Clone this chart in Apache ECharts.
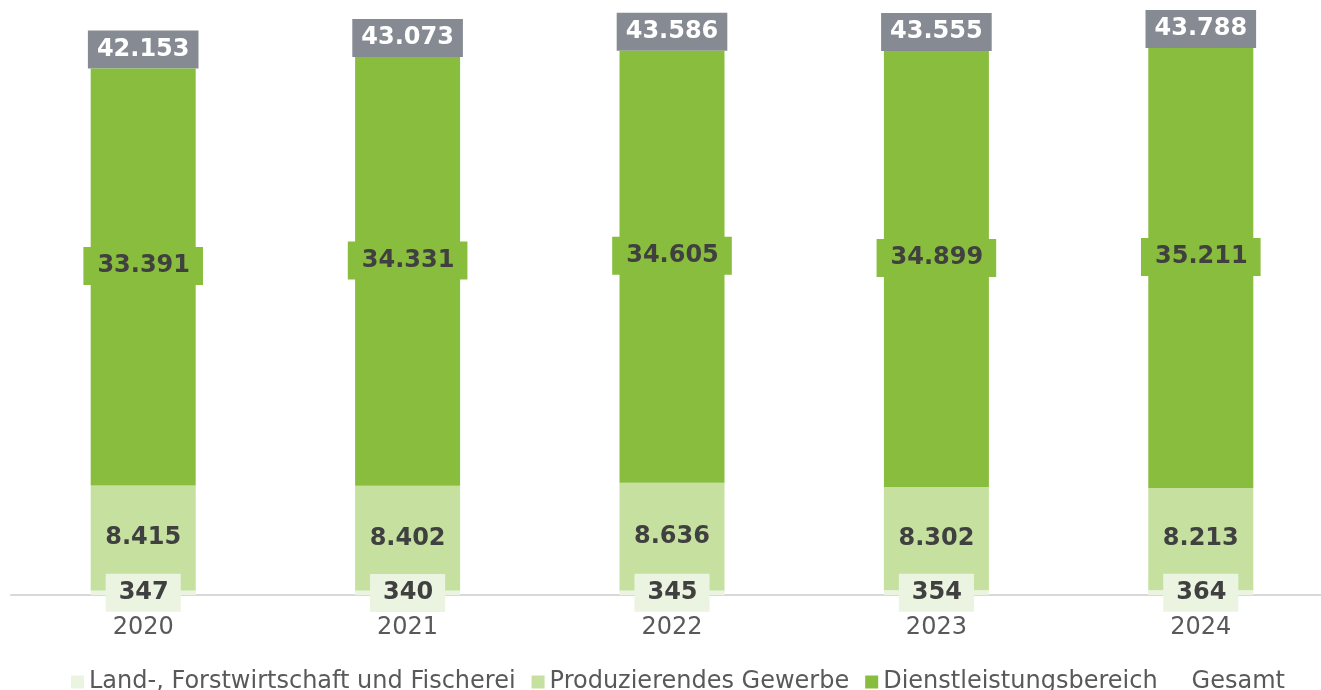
<!DOCTYPE html>
<html>
<head>
<meta charset="utf-8">
<script src="https://cdn.jsdelivr.net/npm/echarts@6/dist/echarts.min.js"></script>
<style>
  html, body { margin: 0; padding: 0; background: #fff; }
  #chart { width: 1321px; height: 690px; }
</style>
</head>
<body>
<div id="chart"></div>
<script>
var years = ['2020', '2021', '2022', '2023', '2024'];
var land = [347, 340, 345, 354, 364];
var produzierend = [8415, 8402, 8636, 8302, 8213];
var dienst = [33391, 34331, 34605, 34899, 35211];
var gesamt = [42153, 43073, 43586, 43555, 43788];

function fmt(v) {
    return String(v).replace(/\B(?=(\d{3})+(?!\d))/g, '.');
}

var chart = echarts.init(document.getElementById('chart'));

var baseLabel = {
    show: true,
    fontFamily: 'DejaVu Sans',
    fontSize: 24,
    fontWeight: 'bold',
    color: '#404040',
    lineHeight: 24,
    formatter: function (p) { return fmt(p.value); }
};

var option = {
    animation: false,
    textStyle: { fontFamily: 'DejaVu Sans' },
    grid: { left: 11, width: 1322, top: 10, bottom: 95, outerBoundsMode: 'none' },
    legend: {
        top: 665,
        left: 66,
        icon: 'rect',
        itemWidth: 13,
        itemHeight: 13,
        itemGap: 16,
        textStyle: { fontSize: 24, color: '#595959', fontFamily: 'DejaVu Sans' },
        data: ['Land-, Forstwirtschaft und Fischerei', 'Produzierendes Gewerbe', 'Dienstleistungsbereich', 'Gesamt']
    },
    xAxis: {
        type: 'category',
        data: years,
        axisTick: { show: false },
        axisLine: { lineStyle: { color: '#d9d9d9', width: 2 } },
        axisLabel: { fontSize: 24, color: '#595959', margin: 21, fontFamily: 'DejaVu Sans' }
    },
    yAxis: {
        type: 'value',
        min: 0,
        max: 46840,
        show: false,
        splitLine: { show: false }
    },
    series: [{
        name: 'Land-, Forstwirtschaft und Fischerei',
        type: 'bar',
        stack: 'total',
        barWidth: 105,
        data: land,
        itemStyle: { color: '#ebf4e1' },
        z: 3,
        label: Object.assign({}, baseLabel, {
            position: 'inside',
            backgroundColor: '#ebf4e1',
            padding: [7, 12, 7, 13]
        })
    }, {
        name: 'Produzierendes Gewerbe',
        type: 'bar',
        stack: 'total',
        barWidth: 105,
        data: produzierend,
        itemStyle: { color: '#c5e09f' },
        label: Object.assign({}, baseLabel, { position: 'inside' })
    }, {
        name: 'Dienstleistungsbereich',
        type: 'bar',
        stack: 'total',
        barWidth: 105,
        data: dienst,
        itemStyle: { color: '#88bd3d' },
        label: Object.assign({}, baseLabel, {
            position: 'inside',
            offset: [0, -11],
            backgroundColor: '#88bd3d',
            padding: [7, 13, 7, 14]
        })
    }, {
        name: 'Gesamt',
        type: 'bar',
        barWidth: 105,
        barGap: '-100%',
        data: gesamt,
        itemStyle: { color: 'rgba(0,0,0,0)' },
        z: 1,
        label: Object.assign({}, baseLabel, {
            position: 'top',
            distance: 0,
            color: '#ffffff',
            backgroundColor: '#868a92',
            padding: [7, 9, 7, 9]
        })
    }]
};

chart.setOption(option);
</script>
</body>
</html>
